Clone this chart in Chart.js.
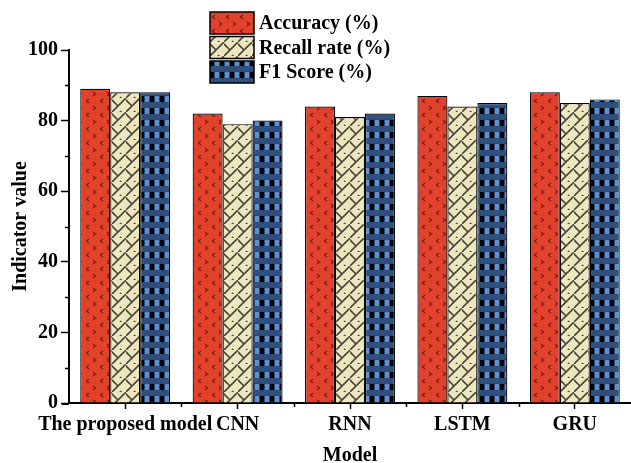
<!DOCTYPE html>
<html>
<head>
<meta charset="utf-8">
<script src="https://cdn.jsdelivr.net/npm/chart.js@4/dist/chart.umd.min.js"></script>
<style>
  html, body { margin: 0; padding: 0; background: #fff; }
  #wrap { width: 631px; height: 463px; }
</style>
</head>
<body>
<div id="wrap"><canvas id="bar-chart"></canvas></div>
<script>
var models = ['The proposed model', 'CNN', 'RNN', 'LSTM', 'GRU'];
var accuracy = [89, 82, 84, 87, 88];
var recall = [88, 79, 81, 84, 85];
var f1Score = [88, 80, 82, 85, 86];
var seriesNames = ['Accuracy (%)', 'Recall rate (%)', 'F1 Score (%)'];
var yTicks = [0, 20, 40, 60, 80, 100];

var FONT = "'Liberation Serif', 'Times New Roman', serif";

function makeTile(w, h, draw) {
    var c = document.createElement('canvas');
    c.width = w;
    c.height = h;
    draw(c.getContext('2d'), w, h);
    return document.createElement('canvas').getContext('2d').createPattern(c, 'repeat');
}

// red with small dark chevrons
var redPattern = makeTile(14, 14, function (g, w, h) {
    g.fillStyle = '#e2412c';
    g.fillRect(0, 0, w, h);
    g.strokeStyle = '#7e2015';
    g.lineWidth = 1.4;
    g.beginPath();
    g.moveTo(5, 1); g.lineTo(2.5, 3); g.lineTo(5, 5);
    g.moveTo(9, 8); g.lineTo(11.5, 10); g.lineTo(9, 12);
    g.stroke();
});

// beige with dark lattice
var beigePattern = makeTile(14, 14, function (g, w, h) {
    g.fillStyle = '#eee6bf';
    g.fillRect(0, 0, w, h);
    g.strokeStyle = '#4a4638';
    g.lineWidth = 1.6;
    g.beginPath();
    g.moveTo(-1, 15); g.lineTo(15, -1);
    g.moveTo(-1, 1); g.lineTo(6, 8);
    g.moveTo(8, 13); g.lineTo(10, 15);
    g.stroke();
});

// blue with black squares and dark band
var bluePattern = makeTile(10, 12, function (g, w, h) {
    g.fillStyle = '#2b4a78';
    g.fillRect(0, 0, w, h);
    g.fillStyle = '#000';
    g.fillRect(0, 0, 4, 6);
    g.fillStyle = '#5b8fd0';
    g.fillRect(5, 0, 4, 6);
    g.fillStyle = '#3d6296';
    for (var x = 0; x < w; x += 2) {
        g.fillRect(x, 7 + (x / 2) % 2, 1, 1);
        g.fillRect(x + 1, 9 + (x / 2) % 2, 1, 1);
    }
});

var patterns = [redPattern, beigePattern, bluePattern];

var extras = {
    id: 'extras',
    afterDraw: function (chart) {
        var ctx = chart.ctx;
        var xs = chart.scales.x;
        var ys = chart.scales.y;
        ctx.save();
        ctx.strokeStyle = '#000';
        ctx.lineWidth = 1.5;
        ctx.beginPath();
        // minor ticks on y
        for (var v = 10; v < 100; v += 20) {
            var py = Math.round(ys.getPixelForValue(v)) + 0.5;
            ctx.moveTo(ys.right - 4, py);
            ctx.lineTo(ys.right, py);
        }
        // minor ticks on x, between categories
        for (var i = 0; i < models.length - 1; i++) {
            var px = Math.round((xs.getPixelForValue(i) + xs.getPixelForValue(i + 1)) / 2) + 0.5;
            ctx.moveTo(px, xs.top);
            ctx.lineTo(px, xs.top + 4);
        }
        ctx.stroke();
        // x axis line continues a bit left of the y axis
        ctx.lineWidth = 2;
        ctx.beginPath();
        ctx.moveTo(62, xs.top + 1);
        ctx.lineTo(xs.left, xs.top + 1);
        ctx.stroke();

        // axis titles
        ctx.fillStyle = '#000';
        ctx.font = 'bold 20px ' + FONT;
        ctx.textAlign = 'center';
        ctx.textBaseline = 'middle';
        ctx.fillText('Model', (chart.chartArea.left + chart.chartArea.right) / 2, 456);
        ctx.save();
        ctx.translate(21, (chart.chartArea.top + chart.chartArea.bottom) / 2);
        ctx.rotate(-Math.PI / 2);
        ctx.fillText('Indicator value', 0, 0);
        ctx.restore();

        // legend
        ctx.textAlign = 'left';
        chart.data.datasets.forEach(function (ds, k) {
            var y = 12 + k * 24.5;
            ctx.fillStyle = ds.backgroundColor;
            ctx.fillRect(210, y, 44, 22);
            ctx.lineWidth = 1.5;
            ctx.strokeStyle = '#000';
            ctx.strokeRect(210, y, 44, 22);
            ctx.fillStyle = '#000';
            ctx.fillText(ds.label, 259, y + 12);
        });
        ctx.restore();
    }
};

new Chart(document.getElementById('bar-chart'), {
    type: 'bar',
    data: {
        labels: models,
        datasets: [accuracy, recall, f1Score].map(function (vals, k) {
            return {
                label: seriesNames[k],
                data: vals,
                backgroundColor: patterns[k],
                borderColor: '#000',
                borderWidth: 1.2,
                borderSkipped: 'bottom',
                categoryPercentage: 0.8,
                barPercentage: 1.0
            };
        })
    },
    options: {
        responsive: true,
        maintainAspectRatio: false,
        animation: false,
        layout: { padding: { top: 50, left: 0, right: 0, bottom: 0 } },
        plugins: {
            legend: { display: false },
            tooltip: { enabled: false }
        },
        scales: {
            x: {
                offset: true,
                grid: {
                    display: true,
                    offset: false,
                    drawOnChartArea: false,
                    drawTicks: true,
                    tickLength: 6,
                    tickColor: '#000',
                    tickWidth: 1.5
                },
                border: { display: true, color: '#000', width: 2 },
                ticks: {
                    color: '#000',
                    padding: 4,
                    maxRotation: 0,
                    autoSkip: false,
                    font: { family: FONT, size: 20, weight: 'bold' }
                },
                afterFit: function (scale) { scale.height = 60; }
            },
            y: {
                min: 0,
                max: 100,
                afterBuildTicks: function (scale) {
                    scale.ticks = yTicks.map(function (v) { return { value: v }; });
                },
                grid: {
                    display: true,
                    drawOnChartArea: false,
                    drawTicks: true,
                    tickLength: 8,
                    tickColor: '#000',
                    tickWidth: 1.5
                },
                border: { display: true, color: '#000', width: 2 },
                ticks: {
                    color: '#000',
                    padding: 3,
                    font: { family: FONT, size: 20, weight: 'bold' }
                },
                afterFit: function (scale) { scale.width = 69; }
            }
        }
    },
    plugins: [extras]
});
</script>
</body>
</html>
